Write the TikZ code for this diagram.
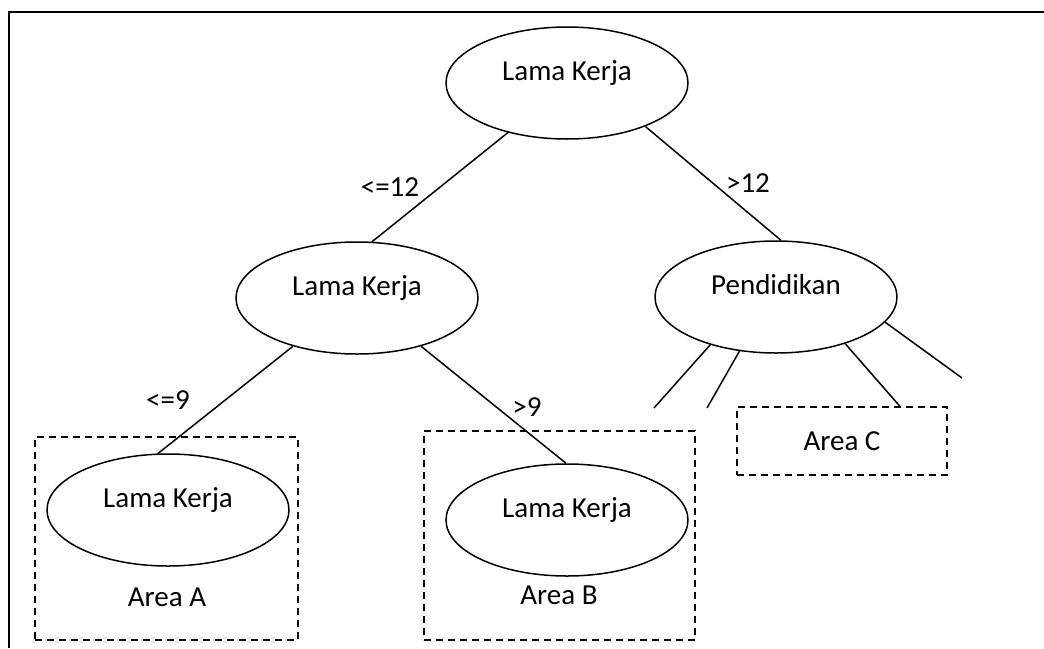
\documentclass[tikz,border=0pt]{standalone}
\usepackage{fontspec}
\setmainfont{Carlito}
\usepackage{tikz}
\usetikzlibrary{shapes.geometric}
\usetikzlibrary{positioning}
\tikzset{tree-line/.style={line width=1.5pt}}
\tikzset{tree-node/.style={draw, ellipse, line width=1.5pt, inner sep=0, minimum width=242pt, minimum height=112pt, text height=20pt, text depth=26pt}}
\tikzset{area-box/.style={draw, dashed, dash pattern=on 7pt off 5pt, line width=1.5pt, inner sep=0}}
\tikzset{split-label/.style={inner sep=0}}

\begin{document}
\begin{tikzpicture}[x=1pt, y=-1pt, font=\fontsize{29}{34}\selectfont]
    \useasboundingbox (0,0) rectangle (1044,648);
    \draw[line width=2pt] (1044,12) -- (9,12) -- (9,648);

    % areas
    \node[area-box, minimum width=263pt, minimum height=203pt] (areaA) at (166.5,538.5) {};
    \node[area-box, minimum width=271pt, minimum height=209pt] (areaB) at (559.5,535.5) {};
    \node[area-box, minimum width=210pt, minimum height=68pt] (areaC) at (842,441) {Area C};
    \node (areaAtext) at (167,597) {Area A};
    \node (areaBtext) at (559,595) {Area B};

    % tree
    \node[tree-node] (root) at (567,83) {Lama Kerja};
    \node[tree-node] (lk) at (357,298) {Lama Kerja};
    \node[tree-node] (pend) at (776,297) {Pendidikan};
    \node[tree-node] (lkA) at (168,510) {Lama Kerja};
    \node[tree-node] (lkB) at (567,520) {Lama Kerja};

    \coordinate (p1) at (654,408);
    \coordinate (p2) at (707,408);
    \coordinate (p4) at (962,378);

    \draw[tree-line] (root.220) -- (lk.75);
    \draw[tree-line] (root.331) -- (pend.85);
    \draw[tree-line] (lk.217) -- (lkA.100);
    \draw[tree-line] (lk.323) -- (lkB.91);
    \draw[tree-line] (pend.216) -- (p1);
    \draw[tree-line] (pend.236) -- (p2);
    \draw[tree-line] (pend.326) -- (areaC.31);
    \draw[tree-line] (pend.347) -- (p4);

    % split labels
    \node[split-label] (le12) at (390,187) {<=12};
    \node[split-label] (gt12) at (748,183) {>12};
    \node[split-label] (le9) at (168,400) {<=9};
    \node[split-label] (gt9) at (527,407) {>9};
\end{tikzpicture}
\end{document}
